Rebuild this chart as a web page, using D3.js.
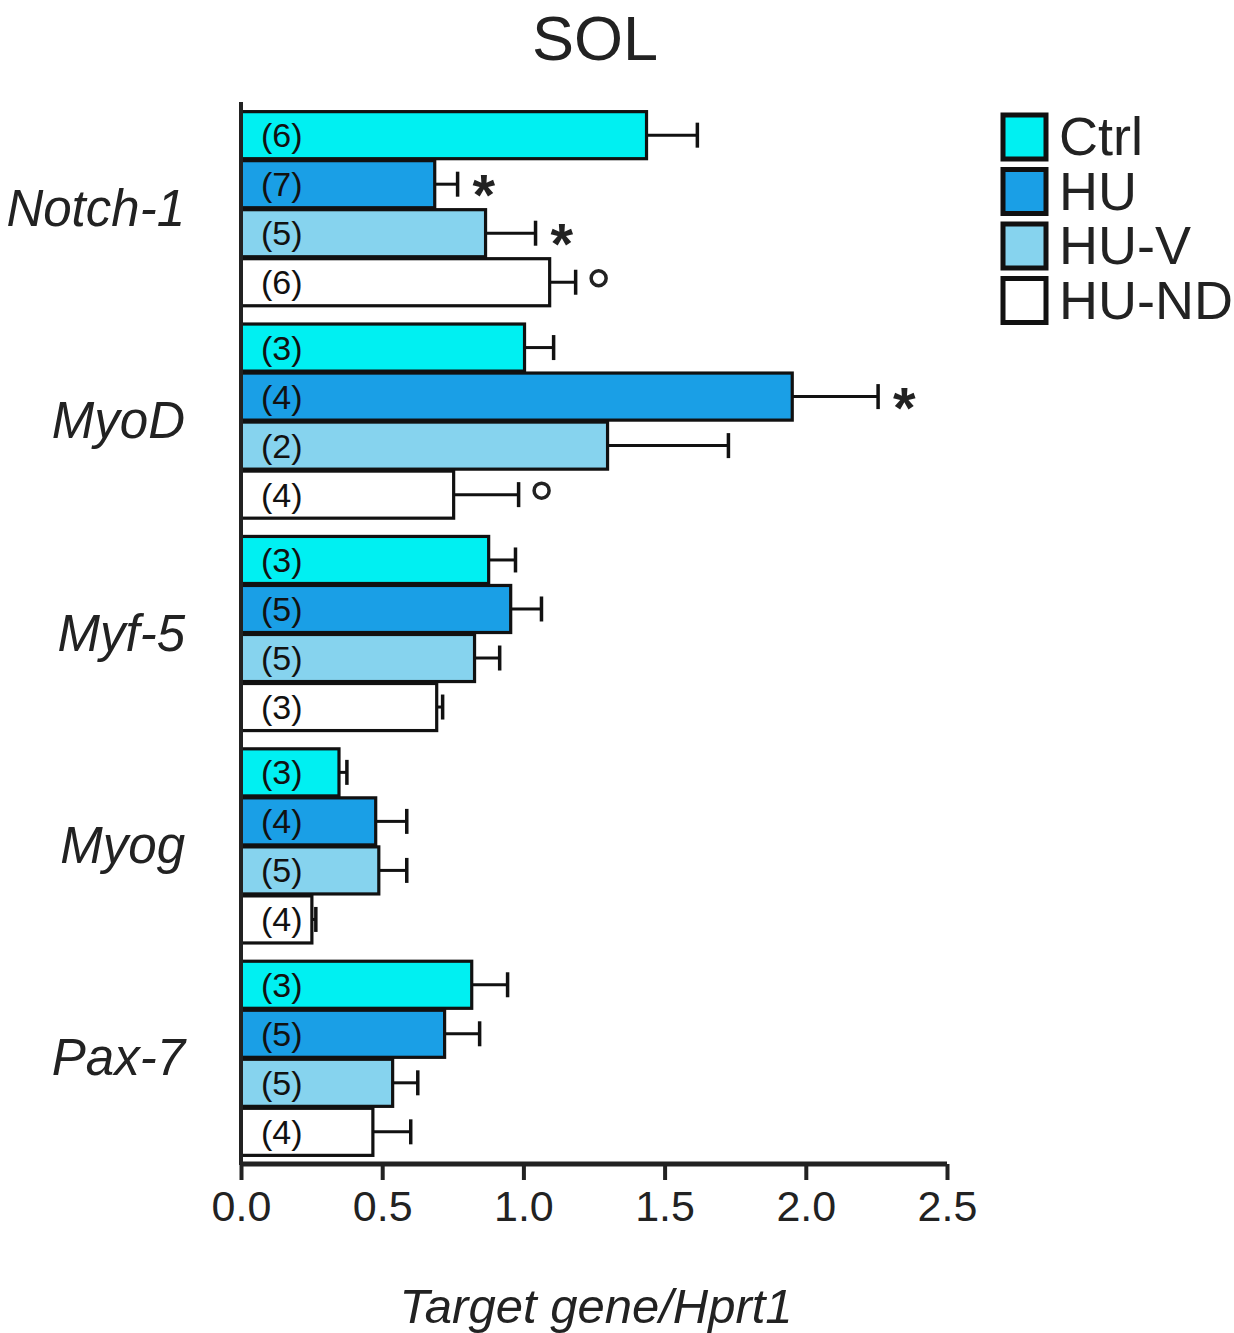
<!DOCTYPE html>
<html><head><meta charset="utf-8">
<script src="https://cdn.jsdelivr.net/npm/d3@7"></script>
<style>body{margin:0;background:#fff}</style>
</head><body>
<script>
const genes = ["Notch-1","MyoD","Myf-5","Myog","Pax-7"];
const groups = ["Ctrl","HU","HU-V","HU-ND"];
const colors = ["#00f0f2","#1a9fe6","#86d3ee","#ffffff"];
const ctrlMean = [1.436,1.004,0.877,0.347,0.817];
const ctrlErr  = [1.616,1.107,0.972,0.375,0.944];
const huMean   = [0.686,1.952,0.955,0.477,0.721];
const huErr    = [0.767,2.256,1.064,0.587,0.845];
const huvMean  = [0.866,1.298,0.827,0.488,0.537];
const huvErr   = [1.043,1.726,0.916,0.587,0.626];
const hundMean = [1.093,0.753,0.693,0.251,0.467];
const hundErr  = [1.185,0.983,0.714,0.265,0.601];
const nCtrl = [6,3,3,3,3];
const nHU   = [7,4,5,4,5];
const nHUV  = [5,2,5,5,5];
const nHUND = [6,4,3,4,4];
const sigCtrl = ["","","","",""];
const sigHU   = ["*","*","","",""];
const sigHUV  = ["*","","","",""];
const sigHUND = ["o","o","","",""];
const xTicks = [0,0.5,1.0,1.5,2.0,2.5];

const means=[ctrlMean,huMean,huvMean,hundMean], errs=[ctrlErr,huErr,huvErr,hundErr],
      ns=[nCtrl,nHU,nHUV,nHUND], sigs=[sigCtrl,sigHU,sigHUV,sigHUND];

const W=1234,H=1333;
const svg=d3.select("body").append("svg").attr("width",W).attr("height",H);
const font="Liberation Sans, Arial, sans-serif";

const x=d3.scaleLinear().domain([0,2.5]).range([241,947]);
const y0=d3.scaleBand().domain(genes).range([102.5,1164.5]).paddingInner(0.086).paddingOuter(0.043);
const y1=d3.scaleBand().domain(groups).range([0,y0.bandwidth()]).paddingInner(0.04);

svg.append("text").attr("x",595).attr("y",60).attr("text-anchor","middle")
  .attr("font-family",font).attr("font-size",63).attr("fill","#222").text("SOL");

const g=svg.append("g");
genes.forEach((gene,i)=>{
  const gy=y0(gene);
  groups.forEach((grp,j)=>{
    const by=gy+y1(grp), bh=y1.bandwidth(), cy=by+bh/2;
    const v=means[j][i], e=errs[j][i];
    g.append("line").attr("x1",x(v)).attr("x2",x(e)).attr("y1",cy).attr("y2",cy)
      .attr("stroke","#111").attr("stroke-width",3);
    g.append("line").attr("x1",x(e)).attr("x2",x(e)).attr("y1",cy-12.5).attr("y2",cy+12.5)
      .attr("stroke","#111").attr("stroke-width",3.5);
    g.append("rect").attr("x",x(0)).attr("y",by).attr("width",x(v)-x(0)).attr("height",bh)
      .attr("fill",colors[j]).attr("stroke","#111").attr("stroke-width",3.2);
    g.append("text").attr("x",x(0)+20).attr("y",cy+12).attr("font-family",font)
      .attr("font-size",34).attr("fill","#111").text("("+ns[j][i]+")");
    const s=sigs[j][i];
    if(s==="*"){
      g.append("text").attr("x",x(e)+15).attr("y",cy+31).attr("font-family",font)
        .attr("font-size",58).attr("font-weight","bold").attr("fill","#222").text("*");
    } else if(s==="o"){
      g.append("circle").attr("cx",x(e)+23).attr("cy",cy-4).attr("r",7.5)
        .attr("fill","none").attr("stroke","#222").attr("stroke-width",3.5);
    }
  });
  svg.append("text").attr("x",185).attr("y",gy+y0.bandwidth()/2+17).attr("text-anchor","end")
    .attr("font-family",font).attr("font-style","italic").attr("font-size",51).attr("fill","#222").text(gene);
});

// axes
svg.append("line").attr("x1",x(0)).attr("x2",x(0)).attr("y1",102).attr("y2",1165)
  .attr("stroke","#222").attr("stroke-width",4);
const ax=svg.append("g").attr("transform","translate(0,1164)")
  .call(d3.axisBottom(x).tickValues(xTicks).tickFormat(d3.format(".1f")).tickSize(16).tickPadding(10));
ax.select(".domain").attr("stroke","#222").attr("stroke-width",5).attr("d",`M${x(0)},0H${x(2.5)}`);
ax.selectAll(".tick line").attr("stroke","#222").attr("stroke-width",4);
ax.selectAll(".tick text").attr("font-family",font).attr("font-size",43).attr("fill","#222");

svg.append("text").attr("x",596).attr("y",1323).attr("text-anchor","middle")
  .attr("font-family",font).attr("font-style","italic").attr("font-size",49).attr("fill","#222")
  .text("Target gene/Hprt1");

// legend
const lg=svg.append("g");
groups.forEach((grp,j)=>{
  const ly=115+j*54.5;
  lg.append("rect").attr("x",1003).attr("y",ly).attr("width",43).attr("height",44)
    .attr("fill",colors[j]).attr("stroke","#111").attr("stroke-width",5);
  lg.append("text").attr("x",1059).attr("y",ly+40).attr("font-family",font)
    .attr("font-size",54).attr("fill","#222").text(grp);
});
</script>
</body></html>
